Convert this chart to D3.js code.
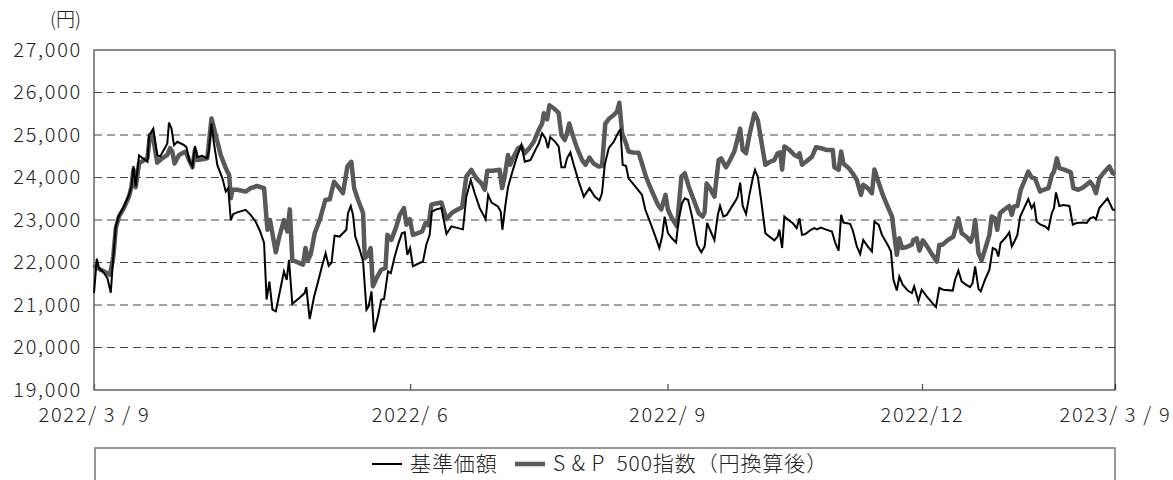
<!DOCTYPE html>
<html>
<head>
<meta charset="utf-8">
<script src="https://cdn.jsdelivr.net/npm/d3@7"></script>
<style>
  body { margin: 0; background: #fff; }
  svg text { font-family: "Noto Sans CJK JP", "Noto Sans", sans-serif; font-weight: 300; fill: #222; white-space: pre; }
</style>
</head>
<body>
<div id="chart"></div>
<script>
// days counted from 2022/3/9, values in yen
const navDays = [0,1,1.8,3.6,4.8,6,6.9,7.8,8.9,10.7,12.5,13.4,14.1,14.9,16.1,17.9,19.1,19.7,20.3,21.2,22.6,23.6,25.3,26.2,26.8,27.7,28.6,29.8,32.2,33.1,34,35.2,36.1,36.9,38.7,40.5,41.1,42,42.9,44.1,45.9,47.1,48,48.9,49.8,51.2,54.2,56,57.8,59.4,60.8,61.7,62.7,63.8,65,66.7,67.9,68.9,69.7,70.9,73.3,75.3,75.9,77.1,78.7,80.1,81.5,82.8,83.9,84.9,86,87.8,90.2,90.8,91.8,92.6,93.4,95,96.2,97.4,98.2,99.2,100.1,101.5,102.7,103.7,105.1,106.1,107.5,108.7,110.1,111.1,112,113,114,115.8,117.6,118.8,120,120.8,122.4,124.2,126,127.8,129.5,131.9,133.1,134.7,136.1,137.9,140,140.9,142.1,144.4,145.4,146,147.1,148,149.4,151.2,152.8,154,156,157.8,159,160.2,161.4,162.3,163.1,164.9,166.1,167.1,168.3,169.1,170.3,171.5,173.3,175.1,177.1,179,180.7,181.6,182.6,184,185.8,187.6,188.2,189,190.2,191.1,193.5,195.9,197.1,198.9,200.7,202.1,203.1,204,205.2,206.6,208.1,209,210.2,211.2,212.4,213.8,215.6,217.1,218.3,219.2,220.2,221.8,223,223.8,225,226.2,227.7,229.5,230.1,231,231.9,233.1,234.3,235.5,236.3,237.3,238.5,240,241.4,243.2,244.4,245,246,246.8,248.3,250,251.2,252.2,253.1,254.3,256.3,257.5,258.4,259.9,261.5,263.8,265,266.2,267.1,267.9,270.3,271.2,272.7,273.9,275,276.6,278.1,279,280.5,281.7,283.7,284.9,285.8,287,287.9,289.1,290.9,292.4,293.2,294.7,295.9,297.7,299.5,301,302.2,303.6,307,307.8,309,310.2,311.7,313.2,314.1,315,316.2,317,318.5,320.1,321.3,322.5,323.3,324.1,325.7,327.2,328.1,329.3,330.1,331.1,332.5,334,335.2,336.1,337,338.4,340,341.2,342.4,343.2,343.9,345.1,346.5,348.7,349.9,351.3,353.7,354.9,356.1,357.3,358.2,359.4,360.8,362.3,363.6,364.2,365];
const navValues = [21280,22090,21870,21750,21630,21290,22140,22850,23100,23320,23590,23790,24270,23790,24520,24430,24370,25000,25050,25150,24530,24490,24690,24800,25290,25150,24760,24840,24760,24710,24410,24260,24740,24480,24510,24450,24650,25270,24800,24290,23980,23670,23750,23000,23140,23180,23240,23120,22960,22730,22460,21130,21550,20890,20850,21400,21790,21590,22060,21030,21160,21280,21420,20670,21200,21550,21910,22220,21920,21990,22630,22610,22770,23160,23330,23120,22610,22300,22020,20890,20970,21320,20360,20730,21120,21140,21790,21750,22140,22420,22690,22710,22180,22340,21910,21970,22020,22420,22650,23200,23250,23280,22670,22850,22820,22780,23550,23940,23630,23280,23020,23590,23410,23320,23200,22770,23360,23770,24100,24490,24770,24370,24410,24650,24800,25040,24920,24690,24950,24840,24730,24240,24240,24450,24590,24300,23900,23550,23750,23550,23460,23630,24300,24690,24840,25080,25120,24300,24270,23980,23790,23590,23240,22930,22610,22340,22610,23080,22690,22570,22470,23000,23390,23510,23470,23080,22420,22240,22380,22930,22770,22530,23120,23330,23080,23120,23280,23470,23550,23880,23330,23140,23590,23980,24180,24020,23470,22690,22610,22520,22610,22770,22340,23080,23000,22910,22810,23040,22650,22670,22770,22810,22780,22820,22780,22730,22460,22280,23120,22940,22910,22770,22380,22200,22530,22380,22260,22960,22890,22650,22420,22260,21590,21340,21670,21480,21340,21280,21440,21090,21360,21200,21060,20950,21400,21360,21340,21590,21810,21550,21480,21420,21520,21910,21380,21320,21590,21830,22340,22300,22140,22460,22570,22710,22380,22530,22650,23080,23280,23490,23280,23380,22960,22890,22850,22780,23160,23280,23650,23330,23350,23330,22890,22930,22940,22930,23040,23070,23020,23280,23390,23510,23330,23240,23240];

const spxDays = [0,1.2,3.6,5.7,6.9,7.8,8.9,10.7,12.5,13.4,14.1,14.9,16.1,17.9,19.1,20,20.9,22.6,24.4,26.2,27.2,28,28.8,30.4,32.8,34,35.2,36.1,36.9,38.7,40.5,42,43.5,45.3,47.1,48.3,48.9,49.5,51.2,54.2,56,58.2,60.8,62,62.9,65,66.1,67.9,69.1,70,70.9,73.3,74.7,75.6,76.5,77.5,78.9,80.7,82.7,84.3,85.8,87.2,89,90.6,92,93,94.4,96.2,96.8,98,98.9,99.7,101.3,102.7,104.2,104.9,106.3,108.1,109.3,110.8,111.7,112.9,114,115.8,117.3,118.5,119.6,120.6,122.4,124.2,126,127.8,129.5,131.6,133.1,134.9,136.7,138.5,139.7,140.6,142.6,145,145.9,146.8,148,148.8,150,151.6,152.8,154,155.6,157.2,159,160.2,160.8,162,162.8,164.3,166.1,167.1,168.3,169.1,169.9,171.1,172.7,174.5,175.7,177.1,178.6,180.4,181.6,182.8,184.2,185.8,187,187.8,188.8,190,191.1,192.6,194.7,195.9,197.3,199.5,201.6,202.8,204.3,205.2,206.6,208.4,210,211.2,212.6,214.4,216.2,217.6,218.3,219,220.2,221.8,223.3,224.2,225.9,227.1,228.9,230.1,231,231.9,233.1,234.3,236.1,237.3,238.5,240,241.7,243.2,244.4,245.3,246,246.8,248.6,250.4,251.6,252.2,253.1,254.5,256.7,258.1,259.9,261.7,264.1,264.7,266.2,267.1,267.9,269.8,271.2,272.7,274.2,275,276.6,278.1,279,280.2,282,283.7,285.3,286.1,287,287.9,288.9,290.3,292.4,292.9,294.1,295.1,296.3,297.7,299.5,301.3,302.2,303.4,305.1,307.2,308.2,309,310.2,312,313.4,314.4,315,316.2,317.3,318.5,320.1,320.9,322.1,322.9,323.9,325.3,327.2,328.1,328.9,330.1,331.3,332.5,334,335.2,336.4,338.2,339.4,341.2,342.4,343.2,344.2,345.1,347.1,349.2,350.1,351.9,353.7,356.1,357.3,358.2,359.4,360.8,363,364.2,365];
const spxValues = [21950,21870,21790,21710,22140,22810,23080,23280,23550,23790,24180,23770,24330,24410,24450,25000,25040,24350,24450,24530,24690,24610,24330,24530,24610,24410,24240,24650,24410,24430,24450,25390,25000,24530,24220,24060,23510,23710,23710,23670,23750,23800,23750,22770,23000,22240,22570,23000,22730,23250,22060,21990,21950,22340,22060,22200,22690,23000,23470,23490,23900,23790,23630,24260,24370,23750,23470,23160,22100,22180,22340,21440,21670,21830,21870,22650,22530,22850,23120,23280,22890,23020,22650,22690,22730,22930,22880,23360,23390,23410,23020,23160,23230,23300,24020,24180,23980,23860,23710,24160,24160,24180,23750,24020,24530,24300,24490,24690,24730,24570,24690,24840,25120,25270,25510,25370,25700,25630,25520,25000,24880,25040,25270,25000,24690,24410,24300,24470,24330,24260,24270,25270,25390,25470,25550,25760,25040,24840,24610,24590,24580,24330,24020,23670,23360,23250,23590,23240,23040,22850,24020,24100,23790,23470,23160,23080,23180,23860,23750,23550,24410,24450,24240,24370,24610,24920,25150,24650,24570,25000,25510,25350,24880,24300,24370,24410,24570,24590,24190,24730,24650,24530,24490,24570,24300,24370,24490,24710,24690,24650,24650,24240,24180,24610,24330,24220,24100,23940,23590,23830,23750,23630,24190,23940,23590,23320,23080,22650,22180,22570,22340,22360,22420,22530,22570,22280,22520,22390,22200,22020,22420,22420,22520,22610,22850,23040,22690,22600,22490,22690,23000,22220,22050,22300,22650,23080,23040,22770,23160,23240,23330,23120,23320,23330,23710,23900,24140,24000,23980,23670,23710,23750,24060,24140,24450,24220,24180,24120,23750,23710,23770,23900,23790,23630,23980,24100,24260,24100,24080];

const yTicks = [19000, 20000, 21000, 22000, 23000, 24000, 25000, 26000, 27000];
const xTickDates = ["2022-03-09", "2022-06-30", "2022-09-30", "2022-12-30", "2023-03-09"];
const xTickLabels = ["2022/ 3 / 9", "2022/ 6", "2022/ 9", "2022/12", "2023/ 3 / 9"];
const seriesNames = ["基準価額", "S & P  500指数（円換算後）"];

const parse = d3.timeParse("%Y-%m-%d");
const start = parse("2022-03-09");
const toDate = (d) => new Date(start.getTime() + d * 86400000);

const margin = { left: 94, top: 50, right: 58, bottom: 90 };
const W = 1173, H = 480;
const plotW = W - margin.left - margin.right;
const plotH = H - margin.top - margin.bottom;

const x = d3.scaleTime()
  .domain([start, parse("2023-03-09")])
  .range([margin.left, margin.left + plotW]);

const y = d3.scaleLinear()
  .domain([19000, 27000])
  .range([margin.top + plotH, margin.top]);

const svg = d3.select("#chart").append("svg")
  .attr("width", W)
  .attr("height", H);

// dashed grid
svg.append("g")
  .selectAll("line")
  .data(yTicks.slice(1, -1))
  .enter().append("line")
  .attr("x1", margin.left).attr("x2", margin.left + plotW)
  .attr("y1", d => y(d)).attr("y2", d => y(d))
  .attr("stroke", "#444")
  .attr("stroke-width", 1)
  .attr("stroke-dasharray", "8,5");

// y axis labels
const yAxis = svg.append("g")
  .attr("transform", "translate(" + margin.left + ",0)")
  .call(d3.axisLeft(y).tickValues(yTicks).tickSize(0).tickPadding(12).tickFormat(d3.format(",")));
yAxis.select(".domain").remove();
yAxis.selectAll("text")
  .style("font-size", "20px")
  .style("letter-spacing", "1.7px")
  .attr("fill", "#222");

svg.append("text")
  .attr("x", 81).attr("y", 26)
  .attr("text-anchor", "end")
  .style("font-size", "19px")
  .text("(円)");

// x axis
const xAxis = svg.append("g")
  .attr("transform", "translate(0," + (margin.top + plotH) + ")")
  .call(d3.axisBottom(x)
    .tickValues(xTickDates.map(parse))
    .tickSizeInner(-6).tickSizeOuter(0)
    .tickPadding(18)
    .tickFormat((d, i) => xTickLabels[i]));
xAxis.select(".domain").remove();
xAxis.selectAll("line").attr("stroke", "#555").attr("stroke-width", 1.3);
xAxis.selectAll("text")
  .style("font-size", "20px")
  .style("letter-spacing", "1.7px")
  .attr("fill", "#222");

// frame
svg.append("path")
  .attr("d", "M" + (margin.left + plotW) + "," + margin.top + "H" + margin.left + "V" + (margin.top + plotH) + "H" + (margin.left + plotW))
  .attr("fill", "none").attr("stroke", "#666").attr("stroke-width", 1.5);
svg.append("line")
  .attr("x1", margin.left + plotW).attr("x2", margin.left + plotW)
  .attr("y1", margin.top).attr("y2", margin.top + plotH)
  .attr("stroke", "#111").attr("stroke-width", 1);

const line = d3.line()
  .x(d => x(toDate(d[0])))
  .y(d => y(d[1]));

svg.append("path")
  .datum(d3.zip(spxDays, spxValues))
  .attr("d", line)
  .attr("fill", "none")
  .attr("stroke", "#595959")
  .attr("stroke-width", 4.5)
  .attr("stroke-linejoin", "round");

svg.append("path")
  .datum(d3.zip(navDays, navValues))
  .attr("d", line)
  .attr("fill", "none")
  .attr("stroke", "#000")
  .attr("stroke-width", 2)
  .attr("stroke-linejoin", "miter");

// legend
svg.append("rect")
  .attr("x", 95).attr("y", 448)
  .attr("width", 1020).attr("height", 60)
  .attr("fill", "none").attr("stroke", "#777").attr("stroke-width", 1.5);

const legend = [
  { x: 372, color: "#000", width: 2, label: seriesNames[0] },
  { x: 515, color: "#595959", width: 4.5, label: seriesNames[1] }
];
const lg = svg.append("g").selectAll("g").data(legend).enter().append("g");
lg.append("line")
  .attr("x1", d => d.x).attr("x2", d => d.x + 30)
  .attr("y1", 464).attr("y2", 464)
  .attr("stroke", d => d.color).attr("stroke-width", d => d.width);
lg.append("text")
  .attr("x", d => d.x + 38).attr("y", 471)
  .style("font-size", "21px")
  .style("letter-spacing", "0.9px")
  .text(d => d.label);
</script>
</body>
</html>
